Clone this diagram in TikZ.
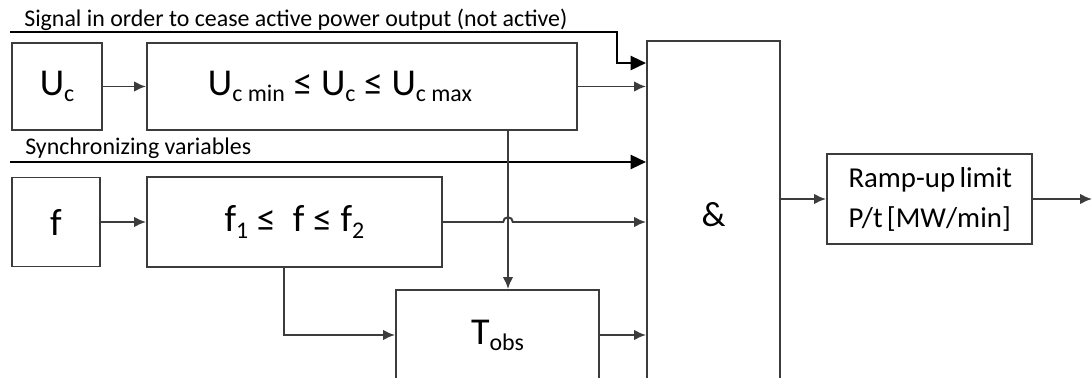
\documentclass[tikz,border=0pt]{standalone}
\usepackage{fontspec}
\setmainfont{Carlito}
\usepackage{tikz}
\usetikzlibrary{arrows.meta,positioning,calc}
\definecolor{linegray}{RGB}{60,60,60}
\newcommand{\subs}[1]{\raisebox{-4.3pt}{\fontsize{17}{17}\selectfont #1}}
\tikzset{
  blockbox/.style={draw=linegray, line width=1.4pt, fill=white, align=center,
                   inner sep=0pt, font=\fontsize{27}{30}\selectfont},
  rampbox/.style ={blockbox, font=\fontsize{20.5}{28.4}\selectfont},
  lbl/.style     ={font=\fontsize{17}{19}\selectfont, inner sep=0pt,
                   anchor=base west},
  sa/.style      ={-{Latex[length=8.5pt,width=7.5pt]}, line width=1.4pt, linegray},
  sig/.style     ={-{Triangle[length=11pt,width=10pt]}, line width=1.8pt, black},
}

\begin{document}
\begin{tikzpicture}
\useasboundingbox (0,0) rectangle (27.3,-9.45);
\clip (0,0) rectangle (27.3,-9.45);

\node[lbl] (siglbl) at (0.6,-0.675)
  {Signal in order to cease active power output (not active)};
\node[lbl] (synlbl) at (0.625,-3.875) {Synchronizing variables};

\node[blockbox, minimum width=2.25cm, minimum height=2.175cm] (uc)
  at (1.425,-2.1625) {U\subs{c}};
\node[blockbox, minimum width=10.75cm, minimum height=2.175cm] (ucrng)
  at (9.05,-2.1625)
  {U\subs{c min} ≤ U\subs{c} ≤ U\subs{c max}\hspace*{1.1cm}};

\node[blockbox, minimum width=2.2cm, minimum height=2.225cm] (f)
  at (1.4,-5.55) {f};
\node[blockbox, minimum width=7.375cm, minimum height=2.25cm] (frng)
  at (7.3625,-5.55) {f\subs{1} ≤~ f ≤ f\subs{2}};

\node[blockbox, minimum width=5.075cm, minimum height=2.25cm] (tobs)
  at (12.4375,-8.375) {T\subs{obs}};

\node[blockbox, minimum width=3.325cm, minimum height=8.7cm,
      font=\fontsize{25}{28}\selectfont] (andg)
  at (17.8375,-5.375) {\&};

\node[rampbox, minimum width=5.125cm, minimum height=2.25cm] (ramp)
  at (23.2375,-4.975)
  {\makebox[4.05cm][s]{Ramp-up limit}\\\makebox[4.05cm][s]{P/t [MW/min]}};

% signal lines
\coordinate (sigin) at (0.25,-0.8);
\coordinate (sigbend) at (15.425,-0.8);
\coordinate (synin) at (0.25,-4.05);
\draw[sig] (sigin) -- (sigbend) |- ($(andg.north west)+(0,-0.575)$);
\draw[sig] (synin) -- (synin -| andg.west);

\draw[sa] (uc) -- (ucrng);
\draw[sa] (ucrng.east) -- (ucrng.east -| andg.west);
\draw[sa] (f) -- (frng);

\coordinate (vx) at (12.7,0);
\draw[sa] (vx |- ucrng.south) -- (vx |- tobs.north);
\draw[sa] (frng.east) -- ($(vx |- frng.east)+(-0.12,0)$)
  arc[start angle=180, end angle=0, radius=0.12]
  -- (frng.east -| andg.west);
\draw[sa] ($(frng.south)+(-0.26,0)$) |- (tobs.west);
\draw[sa] (tobs.east) -- (tobs.east -| andg.west);

\draw[sa] (andg.east |- ramp.west) -- (ramp.west);
\coordinate (outp) at (27.3,-4.975);
\draw[sa] (ramp.east) -- (outp);

\end{tikzpicture}
\end{document}
